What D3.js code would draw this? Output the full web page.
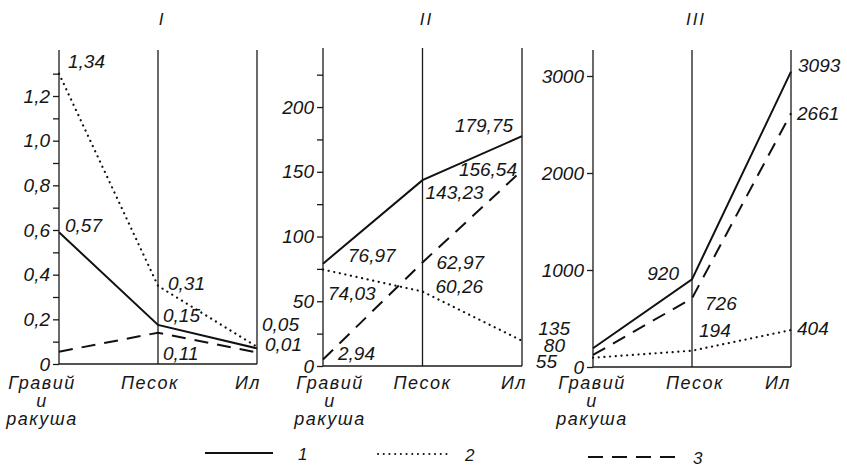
<!DOCTYPE html>
<html>
<head>
<meta charset="utf-8">
<script src="https://cdn.jsdelivr.net/npm/d3@7"></script>
<style>
body{margin:0;background:#fff}
svg text{font-family:"Liberation Sans",Arial,sans-serif;font-style:italic;fill:#161616}
</style>
</head>
<body>
<svg width="847" height="468"></svg>
<script>
// categories, panel titles, legend
var categories = ["Гравий и ракуша","Песок","Ил"]
var categoryLines = [["Гравий","и","ракуша"],["Песок"],["Ил"]]
var panelTitles = ["I","II","III"]
var seriesNames = ["1","2","3"]

// panel I  (series order: 1 solid, 2 dotted, 3 dashed)
var p1Solid = [0.59,0.175,0.07]
var p1Dotted = [1.30,0.35,0.077]
var p1Dashed = [0.055,0.14,0.052]
var p1Ticks = [0,0.1,0.2,0.3,0.4,0.5,0.6,0.7,0.8,0.9,1.0,1.1,1.2,1.3]
var p1TickText = ["0","","0,2","","0,4","","0,6","","0,8","","1,0","","1,2",""]
var p1Labels = ["1,34","0,57","0,31","0,15","0,11","0,05","0,01"]

// panel II
var p2Solid = [79,143.5,177.5]
var p2Dotted = [74.5,57.5,19.5]
var p2Dashed = [5,80,151]
var p2Ticks = [0,25,50,75,100,125,150,175,200,225]
var p2TickText = ["0","","50","","100","","150","","200",""]
var p2Labels = ["179,75","156,54","143,23","76,97","74,03","62,97","60,26","2,94"]

// panel III
var p3Solid = [193,904,3045]
var p3Dotted = [96,168,381]
var p3Dashed = [124,708,2615]
var p3Ticks = [0,1000,2000,3000]
var p3TickText = ["0","1000","2000","3000"]
var p3Labels = ["3093","2661","920","726","194","404","135","80","55"]

// label placement: [series, category, dx, dy, anchor]
var panels = [
  {title:panelTitles[0], series:[p1Solid,p1Dotted,p1Dashed], max:1.406, base:364, top:50, x:[59,158,257],
   ticks:p1Ticks, tickText:p1TickText, labels:p1Labels, catShift:[-17,-8,-9],
   place:[[1,0,9,-6,"start"],[0,0,6,0,"start"],[1,1,10,4,"start"],[0,1,5,-3,"start"],
          [2,1,5,27,"start"],[0,2,5,-17,"start"],[2,2,8,-1,"start"]]},
  {title:panelTitles[1], series:[p2Solid,p2Dotted,p2Dashed], max:245.6, base:366, top:48, x:[323,424,522],
   ticks:p2Ticks, tickText:p2TickText, labels:p2Labels, catShift:[7,0,-8],
   place:[[0,2,-9,-4,"end"],[2,2,-5,6,"end"],[0,1,3,19,"start"],[0,0,25,-2,"start"],
          [1,0,5,30,"start"],[2,1,14,7,"start"],[1,1,13,1,"start"],[2,0,15,0,"start"]]},
  {title:panelTitles[2], series:[p3Solid,p3Dotted,p3Dashed], max:3268, base:367, top:50, x:[593,690,791],
   ticks:p3Ticks, tickText:p3TickText, labels:p3Labels, catShift:[-1,3,-13],
   place:[[0,2,7,0,"start"],[2,2,6,7,"start"],[0,1,-13,1,"end"],[2,1,13,12,"start"],
          [1,1,7,-14,"start"],[1,2,6,5,"start"],[0,0,-23,-13,"end"],[2,0,-28,-3,"end"],[1,0,-36,10,"end"]]}
]

var dashes = [null,"0.1,5.6","14,9"]
var svg = d3.select("svg")

var drawPanel = function(p)
{
  var g = svg.append("g")
  var xScale = d3.scalePoint().domain(categories).range([p.x[0],p.x[2]])
  var yScale = d3.scaleLinear().domain([0,p.max]).range([p.base,p.top])

  // verticals for each category
  g.selectAll(".vline")
   .data(categories)
   .enter()
   .append("line")
   .attr("x1",function(c){return xScale(c)})
   .attr("x2",function(c){return xScale(c)})
   .attr("y1",yScale(0))
   .attr("y2",yScale(p.max))
   .attr("stroke","#1a1a1a")
   .attr("stroke-width",1.3)

  g.append("line")
   .attr("x1",xScale(categories[0])).attr("x2",xScale(categories[2]))
   .attr("y1",yScale(0)).attr("y2",yScale(0))
   .attr("stroke","#1a1a1a").attr("stroke-width",1.4)

  var yAxis = d3.axisLeft(yScale)
                .tickValues(p.ticks)
                .tickFormat(function(d,i){return p.tickText[i]})
                .tickSize(6)
                .tickPadding(3)
  var ax = g.append("g")
   .attr("transform","translate("+xScale(categories[0])+",0)")
   .call(yAxis)
  ax.select(".domain").remove()
  ax.selectAll("line").attr("stroke","#1a1a1a").attr("stroke-width",1.3)
  ax.selectAll("text").attr("font-size",19).attr("fill","#161616")
    .style("font-family","Liberation Sans").style("font-style","italic")

  var line = d3.line()
               .x(function(v,i){return xScale(categories[i])})
               .y(function(v){return yScale(v)})

  g.selectAll(".series")
   .data(p.series)
   .enter()
   .append("path")
   .attr("d",function(s){return line(s)})
   .attr("fill","none")
   .attr("stroke","#111")
   .attr("stroke-width",function(s,i){return i==1?2.2:2})
   .attr("stroke-linecap",function(s,i){return i==1?"round":"butt"})
   .attr("stroke-dasharray",function(s,i){return dashes[i]})

  g.selectAll(".vlabel")
   .data(p.place)
   .enter()
   .append("text")
   .attr("x",function(q){return xScale(categories[q[1]])+q[2]})
   .attr("y",function(q){return yScale(p.series[q[0]][q[1]])+q[3]})
   .attr("text-anchor",function(q){return q[4]})
   .attr("font-size",19)
   .text(function(q,i){return p.labels[i]})

  g.append("text")
   .attr("x",xScale(categories[1])+4)
   .attr("y",25)
   .attr("text-anchor","middle")
   .attr("font-size",17)
   .attr("letter-spacing",2)
   .text(p.title)

  categoryLines.forEach(function(lines,ci)
  {
    g.selectAll(null)
     .data(lines)
     .enter()
     .append("text")
     .attr("x",xScale(categories[ci])+p.catShift[ci])
     .attr("y",function(t,li){return [389,407,425][li]})
     .attr("text-anchor","middle")
     .attr("font-size",18)
     .attr("letter-spacing",1.5)
     .text(function(t){return t})
  })
}

panels.forEach(drawPanel)

// legend
var legendX = [[205,273,298,453],[378,447,465,454],[588,675,693,457]]
var legend = svg.append("g")
legend.selectAll("line")
  .data(seriesNames)
  .enter()
  .append("line")
  .attr("x1",function(s,i){return legendX[i][0]})
  .attr("x2",function(s,i){return legendX[i][1]})
  .attr("y1",function(s,i){return legendX[i][3]})
  .attr("y2",function(s,i){return legendX[i][3]})
  .attr("stroke","#111")
  .attr("stroke-width",2)
  .attr("stroke-linecap",function(s,i){return i==1?"round":"butt"})
  .attr("stroke-dasharray",function(s,i){return i==2?"15,9":dashes[i]})
legend.selectAll("text")
  .data(seriesNames)
  .enter()
  .append("text")
  .attr("x",function(s,i){return legendX[i][2]})
  .attr("y",function(s,i){return legendX[i][3]+7})
  .attr("font-size",17)
  .text(function(s){return s})
</script>
</body>
</html>
